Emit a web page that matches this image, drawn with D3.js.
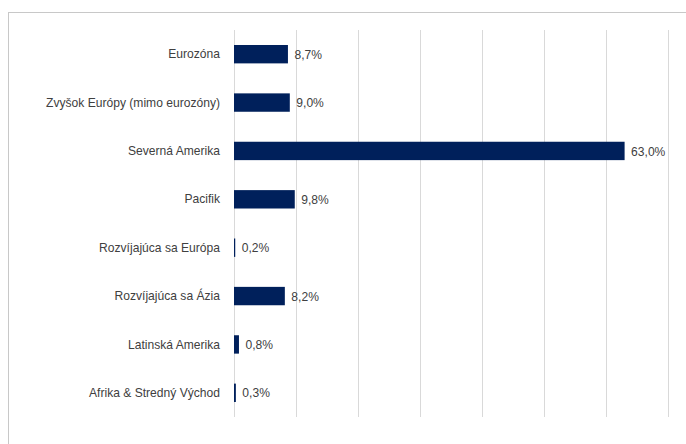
<!DOCTYPE html>
<html><head><meta charset="utf-8">
<script src="https://cdn.jsdelivr.net/npm/d3@7"></script>
<style>
body{margin:0;background:#fff;}
svg{display:block;font-family:"Liberation Sans",Arial,sans-serif;}
</style></head>
<body>
<svg id="c" width="686" height="444"></svg>
<script>
const categories = ["Eurozóna","Zvyšok Európy (mimo eurozóny)","Severná Amerika","Pacifik","Rozvíjajúca sa Európa","Rozvíjajúca sa Ázia","Latinská Amerika","Afrika & Stredný Východ"];
const values = [8.7, 9.0, 63.0, 9.8, 0.2, 8.2, 0.8, 0.3];
const gridTicks = [0,10,20,30,40,50,60,70];

const svg = d3.select("#c");
// outer frame
svg.append("rect").attr("x",8.5).attr("y",12.5).attr("width",690).attr("height",450)
  .attr("fill","none").attr("stroke","#c8c8c8").attr("stroke-width",1);

const x = d3.scaleLinear().domain([0,70]).range([233.5,667.5]);
const y = d3.scaleBand().domain(categories).range([30,417]).paddingInner(0.62).paddingOuter(0.31);
const sx = 0.93, fs = 13;

// gridlines
svg.append("g").selectAll("line").data(gridTicks).join("line")
  .attr("x1",d=>Math.round(x(d))+0.5).attr("x2",d=>Math.round(x(d))+0.5)
  .attr("y1",30).attr("y2",417)
  .attr("stroke","#d9d9d9").attr("stroke-width",1);

// bars
svg.append("g").selectAll("rect").data(values).join("rect")
  .attr("x",x(0)+0.5)
  .attr("y",(d,i)=>y(categories[i]))
  .attr("width",d=>Math.max(0,x(d)-x(0)))
  .attr("height",y.bandwidth())
  .attr("fill","#00205b");

// value labels
svg.append("g").selectAll("text").data(values).join("text")
  .attr("transform",(d,i)=>`translate(${x(d)+7},${y(categories[i])+y.bandwidth()/2}) scale(${sx},1)`)
  .attr("dy","0.35em")
  .attr("font-size",fs)
  .attr("fill","#404040")
  .text(d=>d.toFixed(1).replace(".",",")+"%");

// category labels
const yAxis = d3.axisLeft(y).tickSize(0).tickPadding(0);
const ga = svg.append("g").attr("transform",`translate(220,0)`).call(yAxis);
ga.select(".domain").remove();
ga.selectAll(".tick text").attr("font-size",fs).attr("fill","#404040")
  .attr("font-family","'Liberation Sans',Arial,sans-serif")
  .attr("transform",`scale(${sx},1)`);
</script>
</body></html>
